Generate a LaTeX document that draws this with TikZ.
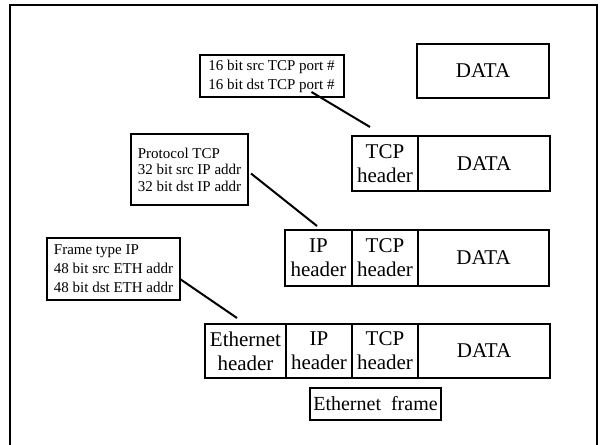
\documentclass[tikz,border=0pt]{standalone}
\usepackage{fontspec}
\setmainfont{Liberation Serif}
\begin{document}
\begin{tikzpicture}[x=1pt,y=-1pt,
  every node/.style={inner sep=0pt, outer sep=0pt},
  frame/.style={draw=black, line width=2pt},
  cell/.style={draw=black, line width=2pt, align=center,
    font=\fontsize{21}{24}\selectfont},
  note/.style={draw=black, line width=2pt, align=left,
    font=\fontsize{15}{19}\selectfont},
  link/.style={draw=black, line width=2pt}
]
\useasboundingbox (0,0) rectangle (606,445);

% outer frame, open at the bottom
\draw[frame] (10,450) -- (10,5) -- (597,5) -- (597,450);

% application data
\node[cell, minimum width=132pt, minimum height=54pt] (data0) at (483,71) {DATA};

% TCP segment
\node[cell, minimum width=66pt, minimum height=55pt] (tcp1) at (385,163.5) {TCP\\header};
\node[cell, minimum width=132pt, minimum height=55pt] (data1) at (484,163.5) {DATA};

% IP packet
\node[cell, minimum width=67pt, minimum height=56pt] (ip2) at (318.5,258) {IP\\header};
\node[cell, minimum width=66pt, minimum height=56pt] (tcp2) at (385,258) {TCP\\header};
\node[cell, minimum width=131pt, minimum height=56pt] (data2) at (483.5,258) {DATA};

% Ethernet frame
\node[cell, minimum width=81pt, minimum height=54pt] (eth3) at (245.5,351) {Ethernet\\header};
\node[cell, minimum width=66pt, minimum height=54pt] (ip3) at (319,351) {IP\\header};
\node[cell, minimum width=66pt, minimum height=54pt] (tcp3) at (385,351) {TCP\\header};
\node[cell, minimum width=132pt, minimum height=54pt] (data3) at (484,351) {DATA};

\node[cell, minimum width=131pt, minimum height=32pt,
  font=\fontsize{20}{24}\selectfont] (label) at (375.5,404) {Ethernet\ \ frame};

% header field notes
\node[note, minimum width=144pt, minimum height=42pt, inner xsep=5pt] (tcpnote) at (271.5,76)
  {16 bit src TCP port \#\\16 bit dst TCP port \#};
\node[note, minimum width=117pt, minimum height=71pt, inner xsep=4pt,
  font=\fontsize{15}{16.5}\selectfont] (ipnote) at (189.5,169.5)
  {Protocol TCP\\32 bit src IP addr\\32 bit dst IP addr};
\node[note, minimum width=133pt, minimum height=62pt, inner xsep=4pt] (ethnote) at (113.5,269)
  {Frame type IP\\48 bit src ETH addr\\48 bit dst ETH addr};

% pointer lines from the notes towards their headers
\coordinate (tcpend) at (370,127);
\coordinate (ipend) at (317,226);
\coordinate (ethend) at (237,318);
\draw[link] ([xshift=40pt,yshift=5pt]tcpnote.south) -- (tcpend);
\draw[link] ([xshift=3pt,yshift=-4pt]ipnote.east) -- (ipend);
\draw[link] ([yshift=-10pt]ethnote.east) -- (ethend);
\end{tikzpicture}
\end{document}
